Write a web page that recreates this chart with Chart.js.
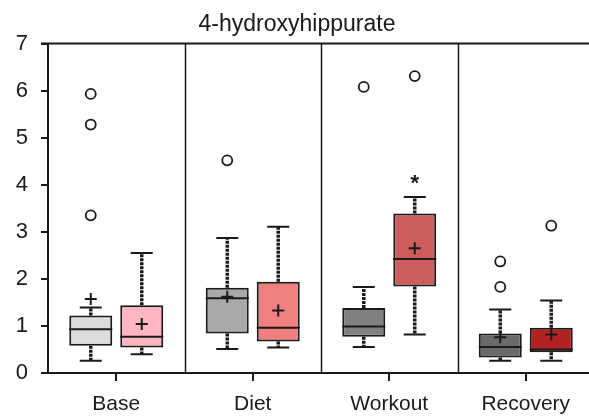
<!DOCTYPE html>
<html>
<head>
<meta charset="utf-8">
<script src="https://cdn.jsdelivr.net/npm/chart.js@4.4.0/dist/chart.umd.min.js"></script>
<style>
  html, body { margin: 0; padding: 0; background: #fff; overflow: hidden; }
  #wrap { width: 600px; height: 417px; }
</style>
</head>
<body>
<div id="wrap"><canvas id="c" width="600" height="417"></canvas></div>
<script>
const titleText = '4-hydroxyhippurate';
const categories = ['Base', 'Diet', 'Workout', 'Recovery'];
const yTicks = [0, 1, 2, 3, 4, 5, 6, 7];

// Left (grey) boxes
const greyMin    = [0.26, 0.51, 0.55, 0.26];
const greyQ1     = [0.58, 0.84, 0.77, 0.33];
const greyMedian = [0.93, 1.59, 0.99, 0.55];
const greyQ3     = [1.22, 1.81, 1.38, 0.84];
const greyMax    = [1.39, 2.87, 1.83, 1.35];
const greyMean   = [1.57, 1.62, null, 0.76];
const greyOutliers = [[3.35, 5.28, 5.93], [4.52], [6.08], [1.83, 2.37]];

// Right (red) boxes
const redMin    = [0.40, 0.54, 0.82, 0.26];
const redQ1     = [0.54, 0.67, 1.84, 0.44];
const redMedian = [0.77, 0.96, 2.42, 0.50];
const redQ3     = [1.44, 1.94, 3.39, 0.96];
const redMax    = [2.55, 3.11, 3.74, 1.54];
const redMean   = [1.04, 1.33, 2.65, 0.82];
const redOutliers = [[], [], [6.31], [3.13]];
const redStars  = [null, null, 4.1, null];

const greyColors = ['#dcdcdc', '#a9a9a9', '#808080', '#696969'];
const redColors  = ['#ffb6c1', '#f08080', '#cd5c5c', '#b22222'];

const INK = '#1a1a1a';
const FONT = '"Liberation Sans", Arial, sans-serif';

const stats = [
  { min: greyMin, med: greyMedian, max: greyMax, mean: greyMean, out: greyOutliers, stars: [null,null,null,null] },
  { min: redMin, med: redMedian, max: redMax, mean: redMean, out: redOutliers, stars: redStars }
];

const boxPlugin = {
  id: 'boxPlugin',
  beforeDatasetsDraw(chart) {
    const ctx = chart.ctx, y = chart.scales.y, x = chart.scales.x, a = chart.chartArea;
    ctx.save();
    // category dividers
    ctx.strokeStyle = INK; ctx.lineWidth = 1.5;
    for (let i = 0; i < categories.length - 1; i++) {
      const px = (x.getPixelForValue(i) + x.getPixelForValue(i + 1)) / 2;
      ctx.beginPath(); ctx.moveTo(Math.round(px) + 0.5, a.top); ctx.lineTo(Math.round(px) + 0.5, a.bottom); ctx.stroke();
    }
    // top border
    ctx.lineWidth = 2;
    ctx.beginPath(); ctx.moveTo(a.left - 7, a.top); ctx.lineTo(a.right, a.top); ctx.stroke();
    // whiskers
    stats.forEach((s, di) => {
      const meta = chart.getDatasetMeta(di);
      meta.data.forEach((bar, j) => {
        const cx = bar.x;
        const q1 = Math.max(bar.y, bar.base), q3 = Math.min(bar.y, bar.base);
        const pMin = y.getPixelForValue(s.min[j]);
        const pMax = y.getPixelForValue(s.max[j]);
        ctx.strokeStyle = INK;
        ctx.lineWidth = 3.5;
        ctx.setLineDash([3, 1]);
        ctx.beginPath();
        ctx.moveTo(cx, q3); ctx.lineTo(cx, pMax);
        ctx.moveTo(cx, q1); ctx.lineTo(cx, pMin);
        ctx.stroke();
        ctx.setLineDash([]);
        ctx.lineWidth = 2;
        ctx.beginPath();
        ctx.moveTo(cx - 11, pMax); ctx.lineTo(cx + 11, pMax);
        ctx.moveTo(cx - 11, pMin); ctx.lineTo(cx + 11, pMin);
        ctx.stroke();
      });
    });
    ctx.restore();
  },
  afterDatasetsDraw(chart) {
    const ctx = chart.ctx, y = chart.scales.y;
    ctx.save();
    stats.forEach((s, di) => {
      const meta = chart.getDatasetMeta(di);
      meta.data.forEach((bar, j) => {
        const cx = bar.x, hw = bar.width / 2;
        // median
        const pm = y.getPixelForValue(s.med[j]);
        ctx.strokeStyle = INK; ctx.lineWidth = 2;
        ctx.beginPath(); ctx.moveTo(cx - hw, pm); ctx.lineTo(cx + hw, pm); ctx.stroke();
        // mean +
        if (s.mean[j] != null) {
          const pmean = y.getPixelForValue(s.mean[j]);
          ctx.lineWidth = 2;
          ctx.beginPath();
          ctx.moveTo(cx - 6, pmean); ctx.lineTo(cx + 6, pmean);
          ctx.moveTo(cx, pmean - 6); ctx.lineTo(cx, pmean + 6);
          ctx.stroke();
        }
        // outliers
        ctx.lineWidth = 1.8;
        s.out[j].forEach(v => {
          const po = y.getPixelForValue(v);
          ctx.beginPath(); ctx.arc(cx, po, 5, 0, Math.PI * 2); ctx.stroke();
        });
        // stars
        if (s.stars[j] != null) {
          ctx.fillStyle = INK;
          ctx.font = 'bold 22px ' + FONT;
          ctx.textAlign = 'center'; ctx.textBaseline = 'middle';
          ctx.fillText('*', cx, y.getPixelForValue(s.stars[j]) + 4);
        }
      });
    });
    ctx.restore();
  }
};

new Chart(document.getElementById('c'), {
  type: 'bar',
  data: {
    labels: categories,
    datasets: [
      { label: 'grey', data: greyQ1.map((v, i) => [v, greyQ3[i]]), backgroundColor: greyColors,
        borderColor: INK, borderWidth: 2, borderSkipped: false },
      { label: 'red', data: redQ1.map((v, i) => [v, redQ3[i]]), backgroundColor: redColors,
        borderColor: INK, borderWidth: 2, borderSkipped: false }
    ]
  },
  options: {
    responsive: false,
    animation: false,
    devicePixelRatio: 1,
    categoryPercentage: 0.747,
    barPercentage: 0.843,
    layout: { padding: { left: 0, right: 6, top: 0, bottom: 0 } },
    plugins: {
      legend: { display: false },
      tooltip: { enabled: false },
      title: {
        display: true, text: titleText, color: INK,
        font: { family: FONT, size: 23, weight: 'normal' },
        padding: { top: 11, bottom: 5 }
      }
    },
    scales: {
      x: {
        grid: { display: true, drawOnChartArea: false, offset: false, tickLength: 8, color: INK, lineWidth: 2 },
        border: { display: true, color: INK, width: 2 },
        ticks: { color: INK, padding: 11, font: { family: FONT, size: 21 } },
        afterFit(s) { s.height = 44; }
      },
      y: {
        min: 0, max: 7,
        afterBuildTicks(s) { s.ticks = yTicks.map(v => ({ value: v })); },
        grid: { display: true, drawOnChartArea: false, tickLength: 7, color: INK, lineWidth: 2 },
        border: { display: true, color: INK, width: 2 },
        ticks: { color: INK, padding: 13, font: { family: FONT, size: 22 } },
        afterFit(s) { s.width = 48; }
      }
    }
  },
  plugins: [boxPlugin]
});
</script>
</body>
</html>
